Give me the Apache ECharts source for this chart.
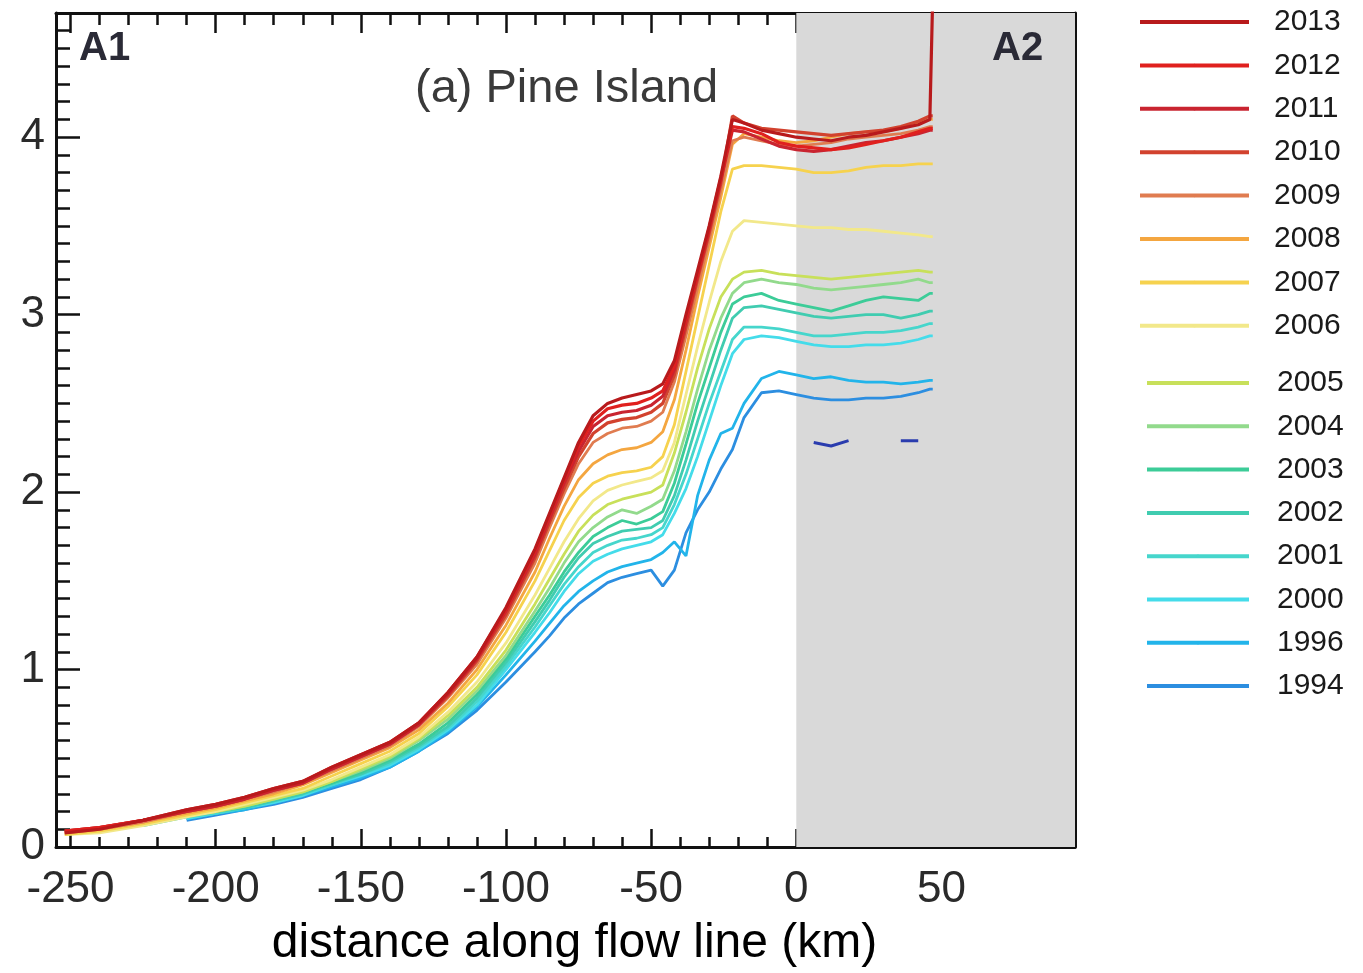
<!DOCTYPE html>
<html><head><meta charset="utf-8">
<script src="https://cdn.jsdelivr.net/npm/echarts@6/dist/echarts.min.js"></script>
<style>html,body{margin:0;padding:0;background:#fff}#c{width:1363px;height:973px}</style>
</head><body><div id="c"></div><script>
// distance along flow line (km)
const distanceKm = [-252,-240,-225,-210,-200,-190,-180,-170,-160,-150,-140,-130,-120,-110,-100,-90,-85,-80,-75,-70,-65,-60,-55,-50,-46,-42,-38,-34,-30,-26,-22,-18,-12,-6,0,6,12,18,24,30,36,42,46,47];

const y2013 = [0.08,0.10,0.15,0.21,0.24,0.28,0.33,0.37,0.45,0.52, 0.59,0.70,0.87,1.07,1.35,1.68,1.88,2.08,2.28,2.43, 2.50,2.53,2.55,2.57,2.61,2.74,3.00,3.25,3.50,3.78, 4.10,4.08,4.04,4.02,4.00,3.99,3.98,4.00,4.01,4.03, 4.05,4.07,4.10,4.80];
const y2012 = [0.09,0.11,0.15,0.21,0.24,0.28,0.33,0.37,0.45,0.52, 0.59,0.70,0.87,1.07,1.34,1.67,1.87,2.07,2.26,2.40, 2.47,2.49,2.50,2.53,2.57,2.71,2.98,3.23,3.49,3.77, 4.06,4.05,4.02,3.97,3.95,3.94,3.93,3.94,3.96,3.98, 4.00,4.03,4.05,4.05];
const y2011 = [0.09,0.11,0.15,0.20,0.23,0.27,0.32,0.36,0.44,0.51, 0.58,0.69,0.86,1.06,1.33,1.65,1.85,2.05,2.23,2.37, 2.43,2.45,2.46,2.49,2.54,2.69,2.96,3.22,3.48,3.76, 4.04,4.03,3.99,3.95,3.93,3.92,3.93,3.95,3.97,3.98, 4.00,4.02,4.04,4.04];
const y2010 = [0.09,0.11,0.15,0.20,0.23,0.27,0.32,0.36,0.44,0.51, 0.58,0.69,0.85,1.05,1.31,1.63,1.83,2.02,2.20,2.33, 2.39,2.41,2.42,2.45,2.50,2.66,2.93,3.20,3.46,3.74, 4.12,4.08,4.05,4.04,4.03,4.02,4.01,4.02,4.03,4.04, 4.06,4.09,4.12,4.12];
const y2009 = [0.08,0.10,0.14,0.20,0.23,0.27,0.31,0.36,0.43,0.50, 0.57,0.68,0.84,1.03,1.29,1.60,1.80,1.99,2.16,2.28, 2.33,2.36,2.37,2.40,2.45,2.62,2.88,3.15,3.42,3.70, 3.98,4.00,3.98,3.96,3.95,3.96,3.97,3.99,4.00,4.01, 4.02,4.04,4.06,4.06];
const y2008 = [0.08,0.10,0.14,0.19,0.22,0.26,0.30,0.35,0.42,0.49, 0.56,0.66,0.81,1.00,1.25,1.55,1.74,1.92,2.07,2.16, 2.21,2.24,2.25,2.28,2.34,2.52,2.80,3.10,3.38,3.66, 3.96,4.02,4.00,3.98,3.97,3.98,4.00,4.02,4.03,4.03, 4.05,4.08,4.10,4.10];
const y2007 = [0.07,0.09,0.13,0.18,0.21,0.25,0.29,0.33,0.40,0.47, 0.54,0.64,0.79,0.97,1.21,1.50,1.67,1.84,1.97,2.05, 2.09,2.11,2.12,2.14,2.20,2.38,2.68,2.98,3.28,3.58, 3.82,3.84,3.84,3.83,3.82,3.80,3.80,3.81,3.83,3.84, 3.84,3.85,3.85,3.85];
const y2006 = [0.07,0.08,0.12,0.17,0.20,0.24,0.28,0.32,0.38,0.45, 0.52,0.62,0.76,0.93,1.15,1.42,1.57,1.72,1.85,1.95, 2.01,2.04,2.06,2.08,2.12,2.28,2.55,2.82,3.07,3.30, 3.47,3.53,3.52,3.51,3.50,3.49,3.49,3.48,3.48,3.47, 3.46,3.45,3.44,3.44];
const y2005 = [null,null,0.13,0.18,0.20,0.23,0.27,0.31,0.37,0.44, 0.51,0.61,0.74,0.90,1.11,1.37,1.51,1.65,1.78,1.87, 1.93,1.96,1.98,2.00,2.04,2.22,2.45,2.70,2.92,3.10, 3.20,3.24,3.25,3.23,3.22,3.21,3.20,3.21,3.22,3.23, 3.24,3.25,3.24,3.24];
const y2004 = [null,null,0.13,0.18,0.20,0.23,0.27,0.31,0.37,0.43, 0.50,0.60,0.72,0.88,1.08,1.33,1.46,1.60,1.72,1.80, 1.86,1.90,1.88,1.92,1.96,2.12,2.34,2.58,2.80,2.98, 3.12,3.18,3.20,3.18,3.17,3.15,3.14,3.15,3.16,3.17, 3.18,3.20,3.18,3.18];
const y2003 = [null,null,0.13,0.18,0.20,0.23,0.27,0.31,0.36,0.42, 0.49,0.58,0.70,0.86,1.06,1.30,1.42,1.55,1.66,1.75, 1.80,1.84,1.82,1.85,1.89,2.05,2.27,2.50,2.70,2.90, 3.06,3.10,3.12,3.08,3.06,3.04,3.02,3.05,3.08,3.10, 3.09,3.08,3.12,3.12];
const y2002 = [null,null,0.12,0.17,0.20,0.22,0.26,0.30,0.36,0.41, 0.48,0.57,0.68,0.84,1.04,1.27,1.39,1.52,1.63,1.71, 1.75,1.78,1.79,1.80,1.84,1.98,2.18,2.40,2.60,2.80, 2.98,3.04,3.05,3.03,3.01,2.99,2.98,2.99,3.00,3.00, 2.98,3.00,3.02,3.02];
const y2001 = [null,null,null,0.17,0.19,0.22,0.26,0.30,0.35,0.41, 0.47,0.56,0.67,0.82,1.02,1.24,1.36,1.48,1.58,1.66, 1.70,1.73,1.74,1.76,1.80,1.93,2.10,2.30,2.50,2.68, 2.86,2.93,2.93,2.92,2.90,2.88,2.88,2.89,2.90,2.90, 2.91,2.93,2.95,2.95];
const y2000 = [null,null,null,0.16,0.19,0.22,0.25,0.29,0.35,0.40, 0.46,0.55,0.66,0.80,1.00,1.21,1.32,1.44,1.54,1.61, 1.65,1.68,1.70,1.72,1.76,1.88,2.02,2.20,2.40,2.60, 2.78,2.86,2.88,2.87,2.85,2.83,2.82,2.82,2.83,2.83, 2.84,2.86,2.88,2.88];
const y1996 = [null,null,null,0.16,0.19,0.21,0.25,0.29,0.34,0.39, 0.45,0.54,0.65,0.79,0.97,1.16,1.26,1.36,1.44,1.50, 1.55,1.58,1.60,1.62,1.66,1.72,1.64,1.98,2.18,2.33, 2.36,2.50,2.64,2.68,2.66,2.64,2.65,2.63,2.62,2.62, 2.61,2.62,2.63,2.63];
const y1994 = [null,null,null,0.15,0.18,0.21,0.24,0.28,0.33,0.38, 0.45,0.54,0.64,0.77,0.93,1.10,1.19,1.29,1.37,1.43, 1.49,1.52,1.54,1.56,1.47,1.56,1.77,1.90,2.00,2.13, 2.24,2.42,2.56,2.57,2.55,2.53,2.52,2.52,2.53,2.53, 2.54,2.56,2.58,2.58];
// short dark-blue fragments without a legend entry
const yFragments = [null,null,null,null,null,null,null,null,null,null, null,null,null,null,null,null,null,null,null,null, null,null,null,null,null,null,null,null,null,null, null,null,null,null,null,2.28,2.26,2.29,null,null, 2.29,2.29,null,null];

const legendYearsTop = ['2013','2012','2011','2010','2009','2008','2007','2006'];
const legendYearsBottom = ['2005','2004','2003','2002','2001','2000','1996','1994'];
const xTickLabels = [-250,-200,-150,-100,-50,0,50];
const yTickLabels = [0,1,2,3,4];

const seriesValues = {
  '2013': y2013, '2012': y2012, '2011': y2011, '2010': y2010, '2009': y2009, '2008': y2008,
  '2007': y2007, '2006': y2006, '2005': y2005, '2004': y2004, '2003': y2003, '2002': y2002,
  '2001': y2001, '2000': y2000, '1996': y1996, '1994': y1994
};
const lineColors = {
  '2013':'#b81a1c','2012':'#e0201e','2011':'#c92430','2010':'#d2422e','2009':'#e07c50','2008':'#f4a640',
  '2007':'#f6d24e','2006':'#f2e88a','2005':'#c8e05a','2004':'#92da8c','2003':'#3ccc98','2002':'#40ccb0',
  '2001':'#46d6cc','2000':'#44dcea','1996':'#22b4ea','1994':'#2c8ee0'
};

const toPairs = vals => distanceKm.map((x, i) => [x, vals[i] == null ? '-' : vals[i]]);

const series = [];
series.push({
  type: 'line', name: 'floating', data: [], z: 1, silent: true,
  markArea: { silent: true, itemStyle: { color: '#d9d9d9' }, data: [[{ xAxis: 0 }, { xAxis: 96 }]] }
});
series.push({
  type: 'line', name: 'fragments', data: toPairs(yFragments), symbol: 'none', z: 3, silent: true,
  connectNulls: false, lineStyle: { width: 3, color: '#2a3cae' }, itemStyle: { color: '#2a3cae' }
});
const drawOrder = legendYearsBottom.slice().reverse().concat(legendYearsTop.slice().reverse());
drawOrder.forEach(yr => {
  const red = ['2013','2012','2011','2010'].includes(yr);
  series.push({
    type: 'line', name: yr, data: toPairs(seriesValues[yr]), symbol: 'none', z: 3, silent: true,
    connectNulls: false, clip: true,
    lineStyle: { width: red ? 3.2 : 2.8, color: lineColors[yr] },
    itemStyle: { color: lineColors[yr] }
  });
});

const FONT = '"Liberation Sans", Arial, Helvetica, sans-serif';
const axisLineStyle = { color: '#111', width: 3 };
const tickStyle = { color: '#111', width: 2.5 };

const chart = echarts.init(document.getElementById('c'), null, { renderer: 'canvas' });
chart.setOption({
  animation: false,
  backgroundColor: '#ffffff',
  grid: { left: 56, right: 288, top: 13, bottom: 125, containLabel: false },
  xAxis: [
    { type: 'value', position: 'bottom', min: -255, max: 96, minInterval: 50, maxInterval: 50,
      axisLine: { show: true, onZero: false, lineStyle: axisLineStyle },
      axisTick: { show: true, inside: true, length: 18, lineStyle: tickStyle },
      axisLabel: { show: true, fontSize: 44, color: '#2a2a2a', fontFamily: FONT, margin: 21,
        formatter: v => (xTickLabels.includes(Math.round(v)) && Math.abs(v - Math.round(v)) < 1e-6 ? String(Math.round(v)) : '') },
      splitLine: { show: false },
      name: 'distance along flow line (km)', nameLocation: 'middle', nameGap: 73,
      nameTextStyle: { fontSize: 48, color: '#000', fontFamily: FONT, padding: [0, 0, 0, 18] } },
    { type: 'value', position: 'top', min: -255, max: 96, minInterval: 50, maxInterval: 50,
      axisLine: { show: true, onZero: false, lineStyle: axisLineStyle },
      axisTick: { show: true, inside: true, length: 20, lineStyle: tickStyle },
      axisLabel: { show: false }, splitLine: { show: false } },
    { type: 'value', position: 'bottom', min: -255, max: 96, minInterval: 10, maxInterval: 10,
      axisLine: { show: false, onZero: false },
      axisTick: { show: true, inside: true, length: 10, lineStyle: tickStyle },
      axisLabel: { show: false }, splitLine: { show: false } },
    { type: 'value', position: 'top', min: -255, max: 96, minInterval: 10, maxInterval: 10,
      axisLine: { show: false, onZero: false },
      axisTick: { show: true, inside: true, length: 12, lineStyle: tickStyle },
      axisLabel: { show: false }, splitLine: { show: false } }
  ],
  yAxis: [
    { type: 'value', position: 'left', min: 0, max: 4.7, interval: 1,
      axisLine: { show: true, onZero: false, lineStyle: axisLineStyle },
      axisTick: { show: true, inside: true, length: 24, lineStyle: tickStyle },
      axisLabel: { show: true, fontSize: 44, color: '#2a2a2a', fontFamily: FONT, margin: 11,
        formatter: v => (yTickLabels.includes(v) ? String(v) : '') },
      splitLine: { show: false } },
    { type: 'value', position: 'right', min: 0, max: 4.7, interval: 1,
      axisLine: { show: true, onZero: false, lineStyle: axisLineStyle },
      axisTick: { show: true, inside: true, length: 24, lineStyle: tickStyle },
      axisLabel: { show: false }, splitLine: { show: false } },
    { type: 'value', position: 'left', min: 0, max: 4.7, interval: 0.1,
      axisLine: { show: false, onZero: false },
      axisTick: { show: true, inside: true, length: 14, lineStyle: tickStyle },
      axisLabel: { show: false }, splitLine: { show: false } },
    { type: 'value', position: 'right', min: 0, max: 4.7, interval: 0.1,
      axisLine: { show: false, onZero: false },
      axisTick: { show: true, inside: true, length: 12, lineStyle: tickStyle },
      axisLabel: { show: false }, splitLine: { show: false } }
  ],
  legend: [
    { orient: 'vertical', left: 1133, top: 2, itemWidth: 109, itemHeight: 4, itemGap: 13.4,
      data: legendYearsTop, selectedMode: false, lineStyle: { width: 4 },
      textStyle: { fontSize: 30, color: '#1a1a1a', fontFamily: FONT, padding: [0, 0, 0, 20] } },
    { orient: 'vertical', left: 1140, top: 363, itemWidth: 102, itemHeight: 4, itemGap: 13.3,
      data: legendYearsBottom, selectedMode: false, lineStyle: { width: 4 },
      textStyle: { fontSize: 30, color: '#1a1a1a', fontFamily: FONT, padding: [0, 0, 0, 23] } }
  ],
  graphic: [
    { type: 'text', left: 79, top: 29, z: 10, style: { text: 'A1', fontSize: 40, fontWeight: 'bold', fill: '#2a2a36', fontFamily: FONT } },
    { type: 'text', left: 992, top: 29, z: 10, style: { text: 'A2', fontSize: 40, fontWeight: 'bold', fill: '#2a2a36', fontFamily: FONT } },
    { type: 'text', left: 415, top: 66, z: 10, style: { text: '(a) Pine Island', fontSize: 47, fill: '#3a3a3a', fontFamily: FONT } }
  ],
  series: series
});
</script></body></html>
